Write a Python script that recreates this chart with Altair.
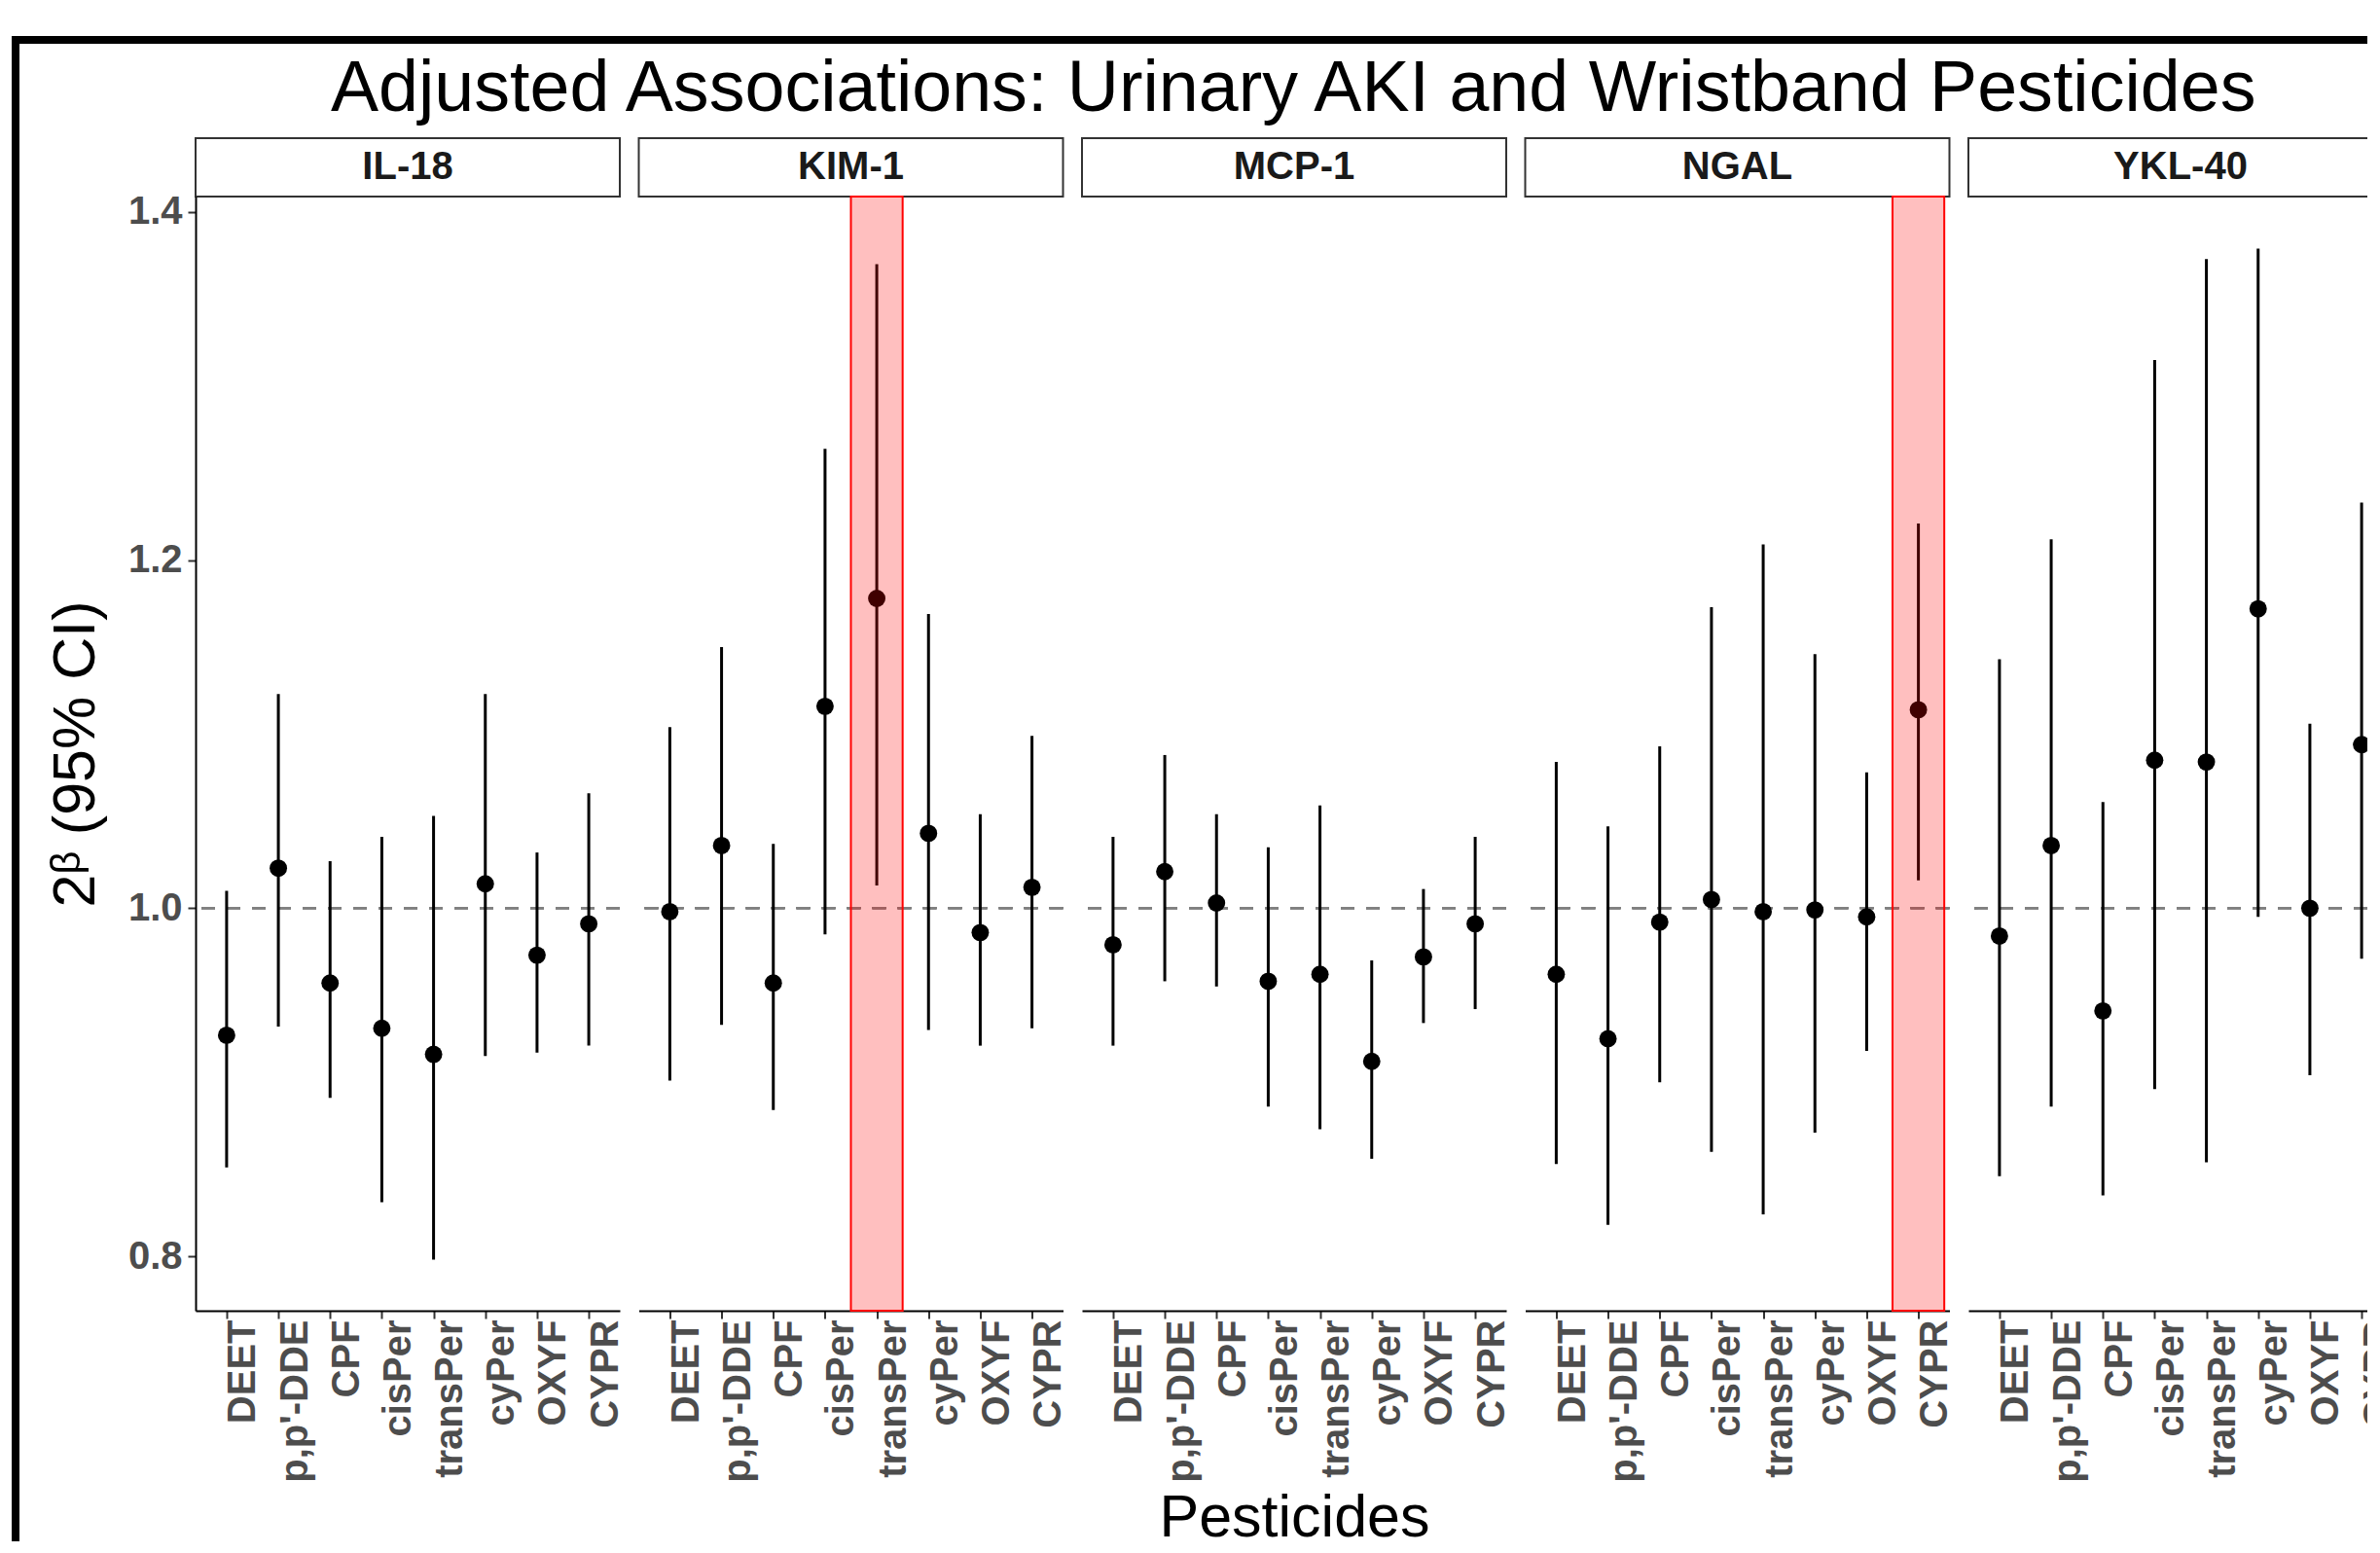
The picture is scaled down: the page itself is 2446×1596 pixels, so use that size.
import json
import altair as alt
import pandas as pd

# ---------------- data ----------------
MARKERS = ["IL-18", "KIM-1", "MCP-1", "NGAL", "YKL-40"]
PESTICIDES = ["DEET", "p,p'-DDE", "CPF", "cisPer", "transPer", "cyPer", "OXYF", "CYPR"]

IL18_EST = [0.927, 1.023, 0.957, 0.931, 0.916, 1.014, 0.973, 0.991]
IL18_LO = [0.851, 0.932, 0.891, 0.831, 0.798, 0.915, 0.917, 0.921]
IL18_HI = [1.010, 1.123, 1.027, 1.041, 1.053, 1.123, 1.032, 1.066]

KIM1_EST = [0.998, 1.036, 0.957, 1.116, 1.178, 1.043, 0.986, 1.012]
KIM1_LO = [0.901, 0.933, 0.884, 0.985, 1.013, 0.930, 0.921, 0.931]
KIM1_HI = [1.104, 1.150, 1.037, 1.264, 1.370, 1.169, 1.054, 1.099]

MCP1_EST = [0.979, 1.021, 1.003, 0.958, 0.962, 0.912, 0.972, 0.991]
MCP1_LO = [0.921, 0.958, 0.955, 0.886, 0.873, 0.856, 0.934, 0.942]
MCP1_HI = [1.041, 1.088, 1.054, 1.035, 1.059, 0.970, 1.011, 1.041]

NGAL_EST = [0.962, 0.925, 0.992, 1.005, 0.998, 0.999, 0.995, 1.114]
NGAL_LO = [0.853, 0.818, 0.900, 0.860, 0.824, 0.871, 0.918, 1.016]
NGAL_HI = [1.084, 1.047, 1.093, 1.173, 1.209, 1.146, 1.078, 1.221]

YKL40_EST = [0.984, 1.036, 0.941, 1.085, 1.084, 1.172, 1.000, 1.094]
YKL40_LO = [0.846, 0.886, 0.835, 0.896, 0.854, 0.995, 0.904, 0.971]
YKL40_HI = [1.143, 1.212, 1.061, 1.315, 1.373, 1.379, 1.106, 1.233]

HIGHLIGHT_MARKERS = ["KIM-1", "NGAL"]
HIGHLIGHT_PESTICIDES = ["transPer", "CYPR"]

REFERENCE_LEVEL = 1.0
Y_TICKS = [0.8, 1.0, 1.2, 1.4]
Y_MIN, Y_MAX = 0.7687, 1.4089
X_MIN, X_MAX = -0.6, 7.6

TITLE = "Adjusted Associations: Urinary AKI and Wristband Pesticides"
Y_TITLE = "2\u1d5d (95% CI)"
X_TITLE = "Pesticides"

# ---------------- styling ----------------
FONT = "Liberation Sans"
PANEL_W, PANEL_H, STRIP_H = 436, 1145, 60
LABEL_GREY = "#4D4D4D"

est_all = [IL18_EST, KIM1_EST, MCP1_EST, NGAL_EST, YKL40_EST]
lo_all = [IL18_LO, KIM1_LO, MCP1_LO, NGAL_LO, YKL40_LO]
hi_all = [IL18_HI, KIM1_HI, MCP1_HI, NGAL_HI, YKL40_HI]

rows = []
for m, es, ls, hs in zip(MARKERS, est_all, lo_all, hi_all):
    for i, p in enumerate(PESTICIDES):
        rows.append({"marker": m, "pesticide": p, "idx": i,
                     "est": es[i], "lo": ls[i], "hi": hs[i]})
df = pd.DataFrame(rows)

hl = pd.DataFrame({"marker": HIGHLIGHT_MARKERS, "pesticide": HIGHLIGHT_PESTICIDES})
hl["idx"] = hl["pesticide"].map(PESTICIDES.index)
hl["x0"] = hl["idx"] - 0.5
hl["x1"] = hl["idx"] + 0.5
hl["top"] = Y_MAX
hl["bottom"] = Y_MIN

label_expr = json.dumps(PESTICIDES) + "[datum.value]"
xscale = alt.Scale(domain=[X_MIN, X_MAX], nice=False, zero=False)
yscale = alt.Scale(domain=[Y_MIN, Y_MAX], nice=False, zero=False)
no_stroke = alt.ViewBackground(stroke="transparent", strokeWidth=0)


def x_axis(with_title):
    kw = dict(values=list(range(len(PESTICIDES))), labelExpr=label_expr,
              labelAngle=270, labelAlign="right", labelBaseline="top",
              labelFont=FONT, labelFontSize=40, labelFontWeight="bold",
              labelColor=LABEL_GREY, labelPadding=1, labelOffset=-3,
              labelOverlap=False, labelFlush=False,
              tickSize=8, tickColor="#333333", tickWidth=2,
              domainColor="#000000", domainWidth=2, grid=False)
    if with_title:
        kw.update(titleFont=FONT, titleFontSize=61, titleFontWeight="normal",
                  titleColor="#000000", titlePadding=7)
    return alt.Axis(**kw)


y_axis_main = alt.Axis(values=Y_TICKS, format=".1f", labelFont=FONT, labelFontSize=40,
                       labelFontWeight="bold", labelColor=LABEL_GREY, labelPadding=6,
                       labelFlush=False, tickSize=8, tickColor="#333333", tickWidth=2,
                       domainColor="#000000", domainWidth=2, grid=False,
                       titleFont=FONT, titleFontSize=61, titleFontWeight="normal",
                       titleColor="#000000", titlePadding=22)

strips = []
panels = []
for i, m in enumerate(MARKERS):
    sub = df[df["marker"] == m]
    show_y = i == 0
    show_xt = i == 2
    xt = X_TITLE if show_xt else None

    def ych(field, show_y=show_y):
        if show_y:
            return alt.Y(field, scale=yscale, axis=y_axis_main, title=Y_TITLE)
        return alt.Y(field, scale=yscale, axis=None)

    ref = alt.Chart(sub).mark_rule(color="#808080", strokeWidth=2, strokeDash=[14, 12]).encode(
        y=(alt.YDatum(REFERENCE_LEVEL, scale=yscale, axis=y_axis_main, title=Y_TITLE)
           if show_y else alt.YDatum(REFERENCE_LEVEL, scale=yscale, axis=None))
    )
    bars = alt.Chart(sub).mark_rule(color="#000000", strokeWidth=3).encode(
        x=alt.X("idx:Q", scale=xscale, axis=x_axis(show_xt), title=xt),
        y=ych("lo:Q"),
        y2="hi:Q",
    )
    pts = alt.Chart(sub).mark_circle(size=320, color="#000000", opacity=1).encode(
        x=alt.X("idx:Q", scale=xscale, axis=x_axis(show_xt), title=xt),
        y=ych("est:Q"),
    )
    layers = [ref, bars, pts]
    hsub = hl[hl["marker"] == m]
    if len(hsub):
        rect = alt.Chart(hsub).mark_rect(fill="#FF0000", fillOpacity=0.25,
                                         stroke="#FF0000", strokeWidth=2).encode(
            x=alt.X("x0:Q", scale=xscale, axis=x_axis(show_xt), title=xt),
            x2="x1:Q",
            y=ych("top:Q"),
            y2="bottom:Q",
        )
        layers.append(rect)
    panels.append(alt.layer(*layers).properties(width=PANEL_W, height=PANEL_H, view=no_stroke))

    sdf = pd.DataFrame({"marker": [m], "title": [TITLE]})
    strip_text = alt.Chart(sdf).mark_text(font=FONT, fontSize=40, fontWeight="bold",
                                          color="#1A1A1A", baseline="middle",
                                          align="center").encode(text="marker:N")
    strip_layers = [strip_text]
    if i == 0:
        # outer black frame of the figure and the figure title
        frame_top = alt.Chart(sdf).mark_rule(color="#000000", strokeWidth=8, clip=False).encode(
            x=alt.value(-189), x2=alt.value(2300), y=alt.value(-101))
        frame_left = alt.Chart(sdf).mark_rule(color="#000000", strokeWidth=8, clip=False).encode(
            x=alt.value(-185), y=alt.value(-105), y2=alt.value(1480))
        title_text = alt.Chart(sdf).mark_text(font=FONT, fontSize=73.6, fontWeight="normal",
                                              color="#000000", align="left",
                                              baseline="alphabetic", clip=False).encode(
            text="title:N", x=alt.value(139), y=alt.value(-28))
        strip_layers += [frame_top, frame_left, title_text]
    strips.append(alt.layer(*strip_layers).properties(
        width=PANEL_W, height=STRIP_H,
        view=alt.ViewBackground(stroke="#333333", strokeWidth=2, fill="#FFFFFF")))

# negative right/bottom padding crops the figure at the window edge, as in the reference
chart = alt.concat(*(strips + panels), columns=len(MARKERS),
                   spacing={"row": 0, "column": 19.5}, bounds="flush").properties(
    padding={"left": -1, "top": 24, "right": -73, "bottom": -43},
).configure_view(strokeWidth=0).configure(background="#FFFFFF")

chart.save("out.html", embed_options={"renderer": "svg", "actions": False})
